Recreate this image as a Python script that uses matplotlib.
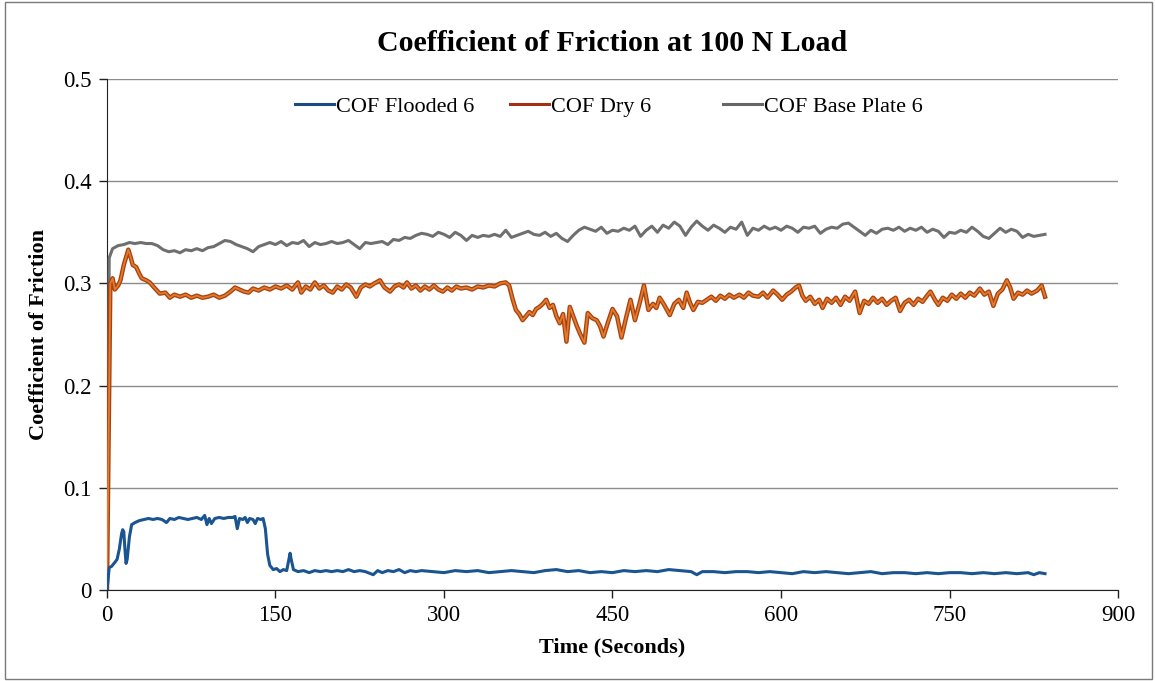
import numpy as np
import matplotlib.pyplot as plt
from matplotlib.lines import Line2D
from matplotlib.patches import Rectangle

plt.rcParams['font.family'] = ['Liberation Serif', 'DejaVu Serif']

# Base plate COF, sampled every 5 s after the start
base_t = [0, 2] + list(range(5, 836, 5))
base_cof = [0.000, 0.325,
    0.334, 0.337, 0.338, 0.340, 0.339, 0.340, 0.339, 0.339, 0.337, 0.333,
    0.331, 0.332, 0.330, 0.333, 0.332, 0.334, 0.332, 0.335, 0.336, 0.339,
    0.342, 0.341, 0.338, 0.336, 0.334, 0.331, 0.336, 0.338, 0.340, 0.338,
    0.341, 0.337, 0.340, 0.339, 0.342, 0.336, 0.340, 0.338, 0.339, 0.341,
    0.339, 0.340, 0.342, 0.338, 0.334, 0.340, 0.339, 0.340, 0.341, 0.338,
    0.343, 0.342, 0.345, 0.344, 0.347, 0.349, 0.348, 0.346, 0.350, 0.348,
    0.345, 0.350, 0.347, 0.342, 0.347, 0.345, 0.347, 0.346, 0.348, 0.346,
    0.352, 0.345, 0.347, 0.349, 0.351, 0.348, 0.347, 0.350, 0.346, 0.349,
    0.344, 0.341, 0.347, 0.352, 0.355, 0.353, 0.351, 0.355, 0.349, 0.352,
    0.351, 0.354, 0.352, 0.356, 0.346, 0.352, 0.356, 0.350, 0.357, 0.354,
    0.360, 0.356, 0.347, 0.355, 0.361, 0.356, 0.352, 0.357, 0.354, 0.350,
    0.355, 0.353, 0.360, 0.347, 0.354, 0.352, 0.356, 0.353, 0.355, 0.352,
    0.356, 0.354, 0.350, 0.355, 0.354, 0.356, 0.349, 0.353, 0.355, 0.354,
    0.358, 0.359, 0.355, 0.351, 0.347, 0.352, 0.349, 0.353, 0.354, 0.352,
    0.355, 0.351, 0.354, 0.352, 0.355, 0.350, 0.353, 0.351, 0.345, 0.350,
    0.349, 0.352, 0.350, 0.355, 0.351, 0.346, 0.344, 0.349, 0.354, 0.350,
    0.353, 0.351, 0.345, 0.348, 0.346, 0.347, 0.348]

# Dry COF
dry_t = [0, 3, 5, 7, 10, 12, 15, 19, 21, 23, 26, 29, 31, 35, 38, 42, 47, 52,
         56, 60, 65, 70, 75, 80, 85, 90, 95, 100, 105, 110, 114, 118, 122, 126,
         130, 135, 140, 145, 150, 155, 160, 165, 170, 173, 177, 181, 185, 189,
         193, 197, 201, 205, 209, 213, 217, 222, 226, 230, 234, 238, 243, 247,
         252, 256, 260, 264, 267, 271, 275, 279, 283, 287, 291, 295, 299, 303,
         307, 311, 315, 320, 325, 330, 335, 340, 345, 350, 355, 358, 361, 364,
         367, 370, 373, 376, 379, 382, 385, 388, 391, 394, 397, 400, 403, 406,
         409, 412, 415, 418, 421, 425, 428, 432, 436, 439, 442, 446, 450, 454,
         458, 462, 466, 470, 474, 478, 482, 486, 489, 492, 496, 501, 505, 509,
         513, 516, 519, 522, 526, 530, 534, 538, 542, 546, 550, 554, 558, 563,
         567, 571, 575, 580, 584, 588, 593, 597, 601, 605, 609, 613, 616, 619,
         622, 626, 630, 634, 637, 641, 645, 649, 653, 657, 661, 666, 670, 674,
         678, 682, 686, 690, 694, 698, 702, 706, 710, 714, 718, 722, 726, 730,
         733, 737, 740, 744, 748, 752, 756, 760, 764, 768, 772, 777, 781, 785,
         789, 793, 797, 801, 804, 807, 811, 815, 819, 823, 828, 832, 835]
dry_cof = [0.000, 0.300, 0.305, 0.294, 0.298, 0.303, 0.318, 0.333, 0.326, 0.318,
    0.316, 0.309, 0.305, 0.303, 0.301, 0.296, 0.290, 0.291, 0.286, 0.289,
    0.287, 0.289, 0.286, 0.288, 0.286, 0.287, 0.289, 0.286, 0.288, 0.292,
    0.296, 0.294, 0.292, 0.291, 0.295, 0.293, 0.296, 0.294, 0.297, 0.295,
    0.298, 0.294, 0.301, 0.291, 0.297, 0.294, 0.301, 0.295, 0.298, 0.293,
    0.291, 0.297, 0.294, 0.299, 0.296, 0.287, 0.296, 0.299, 0.297, 0.300,
    0.303, 0.296, 0.292, 0.297, 0.299, 0.296, 0.301, 0.295, 0.298, 0.293,
    0.297, 0.294, 0.298, 0.294, 0.292, 0.296, 0.293, 0.297, 0.295, 0.296,
    0.294, 0.297, 0.296, 0.298, 0.297, 0.300, 0.301, 0.298, 0.285, 0.274,
    0.270, 0.264, 0.268, 0.272, 0.269, 0.275, 0.277, 0.280, 0.284, 0.276,
    0.279, 0.268, 0.261, 0.270, 0.243, 0.277, 0.268, 0.259, 0.251, 0.242,
    0.271, 0.266, 0.264, 0.258, 0.248, 0.262, 0.275, 0.268, 0.247, 0.266,
    0.284, 0.264, 0.280, 0.298, 0.274, 0.280, 0.276, 0.286, 0.279, 0.269,
    0.280, 0.284, 0.276, 0.291, 0.281, 0.274, 0.282, 0.281, 0.284, 0.287,
    0.283, 0.288, 0.285, 0.289, 0.286, 0.289, 0.286, 0.291, 0.288, 0.287,
    0.291, 0.286, 0.293, 0.289, 0.284, 0.289, 0.292, 0.296, 0.298, 0.288,
    0.283, 0.287, 0.280, 0.284, 0.276, 0.285, 0.281, 0.286, 0.279, 0.287,
    0.283, 0.292, 0.271, 0.283, 0.280, 0.286, 0.281, 0.285, 0.279, 0.283,
    0.286, 0.273, 0.281, 0.284, 0.279, 0.285, 0.282, 0.288, 0.292, 0.284,
    0.279, 0.286, 0.283, 0.289, 0.285, 0.290, 0.286, 0.291, 0.288, 0.295,
    0.289, 0.292, 0.278, 0.290, 0.294, 0.303, 0.296, 0.285, 0.291, 0.289,
    0.293, 0.290, 0.293, 0.298, 0.287]

# Flooded COF
flood_t = [0, 1, 2, 4, 7, 9, 11, 13, 14, 15, 16, 17, 18, 20, 22, 25, 29, 33,
           37, 41, 45, 49, 53, 56, 60, 64, 68, 72, 76, 80, 84, 87, 89, 91, 93,
           96, 100, 104, 108, 112, 114, 116, 118, 121, 123, 125, 127, 130, 132,
           134, 137, 139, 141, 143, 145, 148, 151, 154, 157, 160, 162, 163, 164,
           166, 170, 175, 180, 185, 190, 195, 200, 205, 210, 215, 220, 225, 230,
           237, 241, 245, 250, 255, 260, 265, 270, 275, 280, 290, 300, 310, 320,
           330, 340, 350, 360, 370, 380, 390, 400, 410, 420, 430, 440, 450, 460,
           470, 480, 490, 500, 510, 520, 525, 530, 540, 550, 560, 570, 580, 590,
           600, 610, 620, 630, 640, 650, 660, 670, 680, 690, 700, 710, 720, 730,
           740, 750, 760, 770, 780, 790, 800, 810, 820, 825, 830, 835]
flood_cof = [0.000, 0.010, 0.022, 0.023, 0.027, 0.030, 0.040, 0.055, 0.059,
    0.057, 0.040, 0.026, 0.030, 0.052, 0.064, 0.066, 0.068, 0.069, 0.070,
    0.069, 0.070, 0.069, 0.066, 0.070, 0.069, 0.071, 0.070, 0.069, 0.070,
    0.071, 0.069, 0.073, 0.064, 0.070, 0.065, 0.070, 0.071, 0.070, 0.071,
    0.071, 0.072, 0.060, 0.070, 0.069, 0.071, 0.066, 0.070, 0.069, 0.065,
    0.070, 0.069, 0.070, 0.060, 0.035, 0.024, 0.020, 0.021, 0.018, 0.020,
    0.019, 0.030, 0.036, 0.030, 0.020, 0.018, 0.019, 0.017, 0.019, 0.018,
    0.019, 0.018, 0.019, 0.018, 0.020, 0.018, 0.019, 0.018, 0.015, 0.019,
    0.017, 0.019, 0.018, 0.020, 0.017, 0.019, 0.018, 0.019, 0.018, 0.017,
    0.019, 0.018, 0.019, 0.017, 0.018, 0.019, 0.018, 0.017, 0.019, 0.020,
    0.018, 0.019, 0.017, 0.018, 0.017, 0.019, 0.018, 0.019, 0.018, 0.020,
    0.019, 0.018, 0.015, 0.018, 0.018, 0.017, 0.018, 0.018, 0.017, 0.018,
    0.017, 0.016, 0.018, 0.017, 0.018, 0.017, 0.016, 0.017, 0.018, 0.016,
    0.017, 0.017, 0.016, 0.017, 0.016, 0.017, 0.017, 0.016, 0.017, 0.016,
    0.017, 0.016, 0.017, 0.015, 0.017, 0.016]

series_names = ['COF Flooded 6', 'COF Dry 6', 'COF Base Plate 6']
legend_colors = ['#1a4a80', '#a0301a', '#666666']


def main():
    fig = plt.figure(figsize=(11.55, 6.81), dpi=100)
    ax = fig.add_axes([0.0926, 0.1336, 0.8754, 0.7504])

    ax.plot(base_t, base_cof, color='#6f6f6f', lw=2.2, zorder=3)
    ax.plot(dry_t, dry_cof, color='#a8420f', lw=3.2, zorder=4)
    ax.plot(dry_t, dry_cof, color='#e37a2c', lw=1.3, zorder=5)
    ax.plot(flood_t, flood_cof, color='#1a5592', lw=2.2, zorder=6)

    ax.set_xlim(0, 900)
    ax.set_ylim(0, 0.5)
    ax.set_xticks(range(0, 901, 150))
    ax.set_yticks([0, 0.1, 0.2, 0.3, 0.4, 0.5])
    ax.set_yticklabels(['0', '0.1', '0.2', '0.3', '0.4', '0.5'])
    ax.yaxis.grid(True, color='#8c8c8c', lw=1.0)
    ax.set_axisbelow(True)
    for s in ['top', 'right']:
        ax.spines[s].set_visible(False)
    ax.spines['left'].set_color('#222222')
    ax.spines['bottom'].set_color('#222222')
    ax.tick_params(direction='out', length=6, width=1, colors='#222222',
                   labelsize=16.5, labelcolor='black', pad=5)

    ax.set_title('Coefficient of Friction at 100 N Load', fontsize=21.5,
                 fontweight='bold', pad=20)
    ax.set_xlabel('Time (Seconds)', fontsize=16, fontweight='bold', labelpad=8)
    ax.set_ylabel('Coefficient of Friction', fontsize=16, fontweight='bold',
                  labelpad=10)

    # Excel-style legend: equal-width slots, one small legend per entry
    slot_x = [0.2554, 0.4416, 0.626]
    for name, col, x in zip(series_names, legend_colors, slot_x):
        fig.legend([Line2D([], [], color=col, lw=2.2)], [name],
                   loc='center left', bbox_to_anchor=(x, 0.843),
                   frameon=False, fontsize=16, borderpad=0, borderaxespad=0,
                   handlelength=1.75, handletextpad=0.1)

    fig.patches.append(Rectangle((0.004, 0.003), 0.993, 0.994,
                                 transform=fig.transFigure, fill=False,
                                 edgecolor='#7a7a7a', lw=1.0))

    plt.savefig('out.png', dpi=100)


if __name__ == '__main__':
    main()
